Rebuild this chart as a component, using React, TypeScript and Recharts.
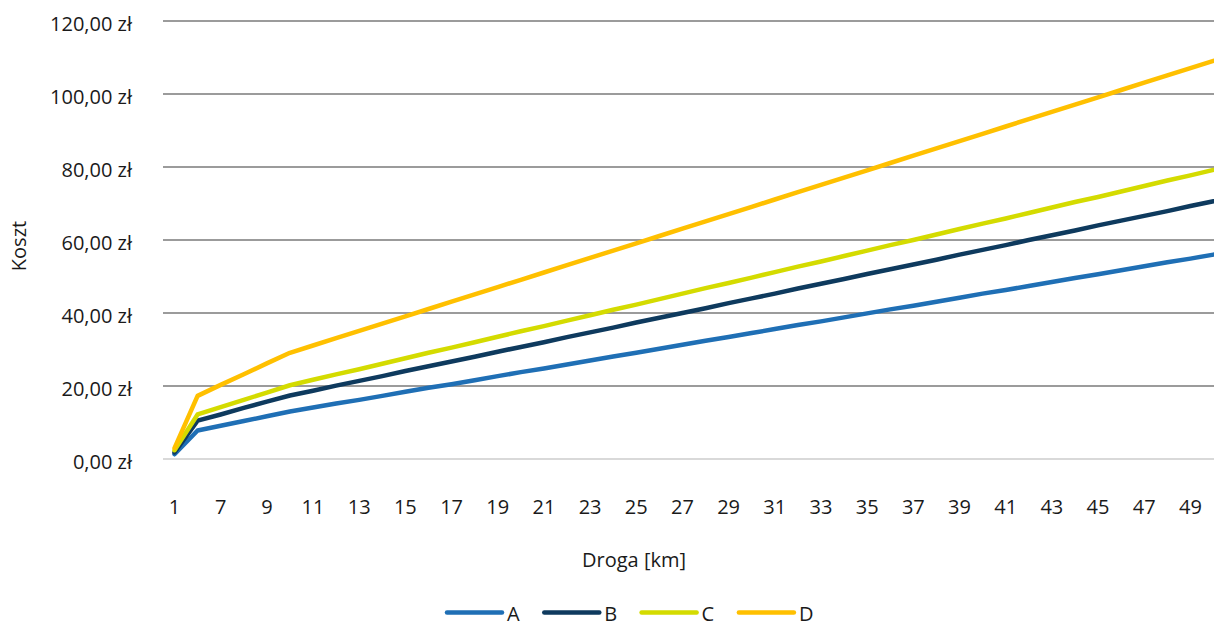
import React from 'react';
import { LineChart, Line, XAxis, YAxis, CartesianGrid } from 'recharts';

// distance categories [km]
const km = [
  1, 6, 7, 8, 9, 10, 11, 12, 13, 14, 15, 16, 17, 18, 19, 20, 21, 22, 23, 24, 25, 26, 27,
  28, 29, 30, 31, 32, 33, 34, 35, 36, 37, 38, 39, 40, 41, 42, 43, 44, 45, 46, 47, 48, 49, 50,
];

// cost per variant [zł]
const costA = [
  1.3, 7.8, 9.1, 10.4, 11.7, 13.0, 14.1, 15.2, 16.2, 17.3, 18.4, 19.5, 20.5, 21.6, 22.7, 23.8,
  24.8, 25.9, 27.0, 28.1, 29.1, 30.2, 31.3, 32.4, 33.4, 34.5, 35.6, 36.7, 37.7, 38.8, 39.9, 41.0,
  42.0, 43.1, 44.2, 45.3, 46.3, 47.4, 48.5, 49.6, 50.6, 51.7, 52.8, 53.9, 54.9, 56.0,
];
const costB = [
  1.8, 10.5, 12.2, 14.0, 15.7, 17.4, 18.7, 20.1, 21.4, 22.7, 24.1, 25.4, 26.7, 28.0, 29.4, 30.7,
  32.0, 33.4, 34.7, 36.0, 37.4, 38.7, 40.0, 41.3, 42.7, 44.0, 45.3, 46.7, 48.0, 49.3, 50.7, 52.0,
  53.3, 54.6, 56.0, 57.3, 58.6, 60.0, 61.3, 62.6, 64.0, 65.3, 66.6, 67.9, 69.3, 70.6,
];
const costC = [
  2.4, 12.2, 14.2, 16.2, 18.2, 20.2, 21.7, 23.2, 24.6, 26.1, 27.6, 29.1, 30.5, 32.0, 33.5, 35.0,
  36.4, 37.9, 39.4, 40.9, 42.3, 43.8, 45.3, 46.8, 48.2, 49.7, 51.2, 52.7, 54.1, 55.6, 57.1, 58.6,
  60.0, 61.5, 63.0, 64.5, 65.9, 67.4, 68.9, 70.4, 71.8, 73.3, 74.8, 76.3, 77.7, 79.2,
];
const costD = [
  3.0, 17.3, 20.3, 23.2, 26.2, 29.1, 31.1, 33.1, 35.1, 37.1, 39.1, 41.1, 43.1, 45.1, 47.1, 49.1,
  51.1, 53.1, 55.1, 57.1, 59.1, 61.1, 63.1, 65.1, 67.1, 69.1, 71.1, 73.1, 75.1, 77.1, 79.1, 81.1,
  83.1, 85.1, 87.1, 89.1, 91.1, 93.1, 95.1, 97.1, 99.1, 101.1, 103.1, 105.1, 107.1, 109.1,
];

const yTicks = [0, 20, 40, 60, 80, 100, 120];

const series = [
  { key: 'A', color: '#1F6FB5' },
  { key: 'B', color: '#0E3A5E' },
  { key: 'C', color: '#D4DB00' },
  { key: 'D', color: '#FFC000' },
];

const data = km.map((k, i) => ({ km: k, A: costA[i], B: costB[i], C: costC[i], D: costD[i] }));

const FONT = '"Open Sans", sans-serif';
const TEXT = '#1a1a1a';

const formatPln = (v: number) => `${v.toFixed(2).replace('.', ',')} zł`;

const YTick = ({ x, y, payload }: any) => (
  <text x={x} y={y + 10} textAnchor="end" fill={TEXT} fontSize={20} fontFamily={FONT}>
    {formatPln(payload.value)}
  </text>
);

const XTick = ({ x, y, payload }: any) => (
  <text x={x} y={y + 47} textAnchor="middle" fill={TEXT} fontSize={20} fontFamily={FONT}>
    {payload.value}
  </text>
);

// legend row under the axis title, drawn straight into the svg
const LEGEND_X = 445;
const LEGEND_Y = 612.5;
const LEGEND_STEP = 97.3;

const LegendRow = () => (
  <g>
    {series.map((s, i) => {
      const x0 = LEGEND_X + i * LEGEND_STEP;
      return (
        <g key={s.key}>
          <line x1={x0 + 2} y1={LEGEND_Y} x2={x0 + 57} y2={LEGEND_Y} stroke={s.color} strokeWidth={4.5} strokeLinecap="round" />
          <text x={x0 + 62} y={LEGEND_Y + 8} fill={TEXT} fontSize={20} fontFamily={FONT}>
            {s.key}
          </text>
        </g>
      );
    })}
  </g>
);

export default function App() {
  return (
    <div style={{ position: 'fixed', left: 0, top: 0, width: 1214, height: 623, overflow: 'hidden', background: '#fff' }}>
      <LineChart width={1226} height={623} data={data} margin={{ top: 21, right: 1, bottom: 104, left: 0 }}>
        <CartesianGrid vertical={false} horizontalValues={[20, 40, 60, 80, 100, 120]} stroke="#7a7a7a" strokeWidth={1.6} />
        <XAxis
          dataKey="km"
          interval={1}
          height={60}
          padding={{ left: 11.5, right: 11.5 }}
          axisLine={{ stroke: '#d9d9d9', strokeWidth: 2 }}
          tickLine={false}
          tick={<XTick />}
        />
        <YAxis
          width={163}
          domain={[0, 120]}
          ticks={yTicks}
          axisLine={false}
          tickLine={false}
          tickSize={6}
          tickMargin={25}
          tick={<YTick />}
        />
        {series.map(s => (
          <Line
            key={s.key}
            type="linear"
            dataKey={s.key}
            stroke={s.color}
            strokeWidth={4.5}
            strokeLinecap="round"
            strokeLinejoin="round"
            dot={false}
            activeDot={false}
            isAnimationActive={false}
          />
        ))}
        <text x={19} y={246} transform="rotate(-90 19 246)" dy={7} textAnchor="middle" fill={TEXT} fontSize={20} fontFamily={FONT}>
          Koszt
        </text>
        <text x={634} y={567} textAnchor="middle" fill={TEXT} fontSize={20} fontFamily={FONT}>
          Droga [km]
        </text>
        <LegendRow />
      </LineChart>
    </div>
  );
}
